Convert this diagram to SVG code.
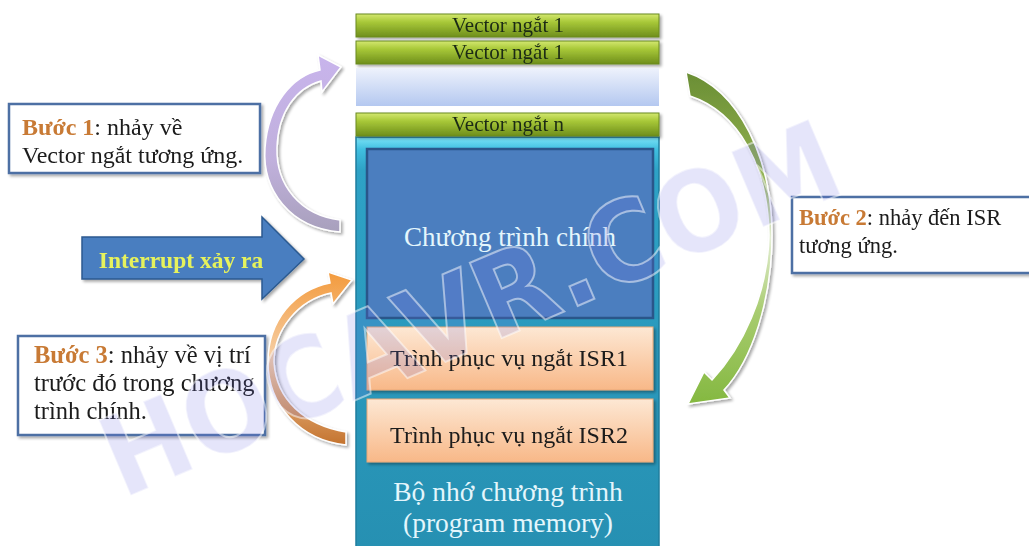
<svg xmlns="http://www.w3.org/2000/svg" width="1029" height="546" viewBox="0 0 1029 546">
  <defs>
    <linearGradient id="gBar" x1="0" y1="0" x2="0" y2="1">
      <stop offset="0" stop-color="#d4e870"/>
      <stop offset="0.35" stop-color="#a8c838"/>
      <stop offset="1" stop-color="#6e8e1c"/>
    </linearGradient>
    <linearGradient id="gGap" x1="0" y1="0" x2="0" y2="1">
      <stop offset="0" stop-color="#eef2fc"/>
      <stop offset="1" stop-color="#b4c8f0"/>
    </linearGradient>
    <linearGradient id="gMem" x1="0" y1="0" x2="0" y2="1">
      <stop offset="0" stop-color="#7ce4f8"/>
      <stop offset="0.03" stop-color="#40bfe0"/>
      <stop offset="0.08" stop-color="#2ea2c6"/>
      <stop offset="1" stop-color="#2690b2"/>
    </linearGradient>
    <linearGradient id="gIsr" x1="0" y1="0" x2="0" y2="1">
      <stop offset="0" stop-color="#fde8d4"/>
      <stop offset="1" stop-color="#f8b888"/>
    </linearGradient>
    <linearGradient id="gPurple" x1="0" y1="0" x2="0" y2="1">
      <stop offset="0" stop-color="#c8b4ec"/>
      <stop offset="0.6" stop-color="#c0b0dc"/>
      <stop offset="1" stop-color="#a8a0bc"/>
    </linearGradient>
    <linearGradient id="gOrange" x1="0" y1="0" x2="0" y2="1">
      <stop offset="0" stop-color="#f39a3c"/>
      <stop offset="0.5" stop-color="#f6d0a8"/>
      <stop offset="1" stop-color="#c4732e"/>
    </linearGradient>
    <linearGradient id="gGreen" x1="0" y1="0" x2="0" y2="1">
      <stop offset="0" stop-color="#6a8e34"/>
      <stop offset="0.3" stop-color="#90b050"/>
      <stop offset="0.5" stop-color="#e4eed4"/>
      <stop offset="0.72" stop-color="#a8cc70"/>
      <stop offset="1" stop-color="#84b840"/>
    </linearGradient>
    <filter id="shadow" x="-10%" y="-10%" width="130%" height="140%">
      <feGaussianBlur in="SourceAlpha" stdDeviation="1.6"/>
      <feOffset dx="1.5" dy="2" result="b"/>
      <feComponentTransfer><feFuncA type="linear" slope="0.35"/></feComponentTransfer>
      <feMerge><feMergeNode/><feMergeNode in="SourceGraphic"/></feMerge>
    </filter>
    <style>
      .serif { font-family: "Liberation Serif", "Times New Roman", serif; }
      .bar { fill: url(#gBar); stroke: #6a8a20; stroke-width: 1; }
      .barTxt { font-size: 21px; fill: #1c2c14; text-anchor: middle; }
      .isr { fill: url(#gIsr); stroke: #e8a878; stroke-width: 1; }
      .isrTxt { font-size: 24px; fill: #1a1a1a; text-anchor: middle; }
      .memTxt { font-size: 27.5px; fill: #e4f6fc; text-anchor: middle; }
      .note { fill: #ffffff; stroke: #4e6fa4; stroke-width: 2.5; }
      .noteTxt { font-size: 24px; fill: #1a1a1a; }
      .step { font-weight: bold; fill: #c87a34; }
      .curve { stroke: #ffffff; stroke-width: 1.5; }
    </style>
  </defs>

  <rect width="1029" height="546" fill="#ffffff"/>

  <!-- program memory column -->
  <g id="program-memory">
    <rect x="356" y="137" width="303" height="412" fill="url(#gMem)" stroke="#1f7e9e" stroke-width="1.5"/>
    <text class="serif memTxt" x="508" y="501">Bộ nhớ chương trình</text>
    <text class="serif memTxt" x="508" y="532">(program memory)</text>
  </g>

  <!-- interrupt vector table -->
  <g id="vector-1" filter="url(#shadow)">
    <rect class="bar" x="356" y="14" width="303" height="23"/>
    <text class="serif barTxt" x="508" y="32">Vector ngắt 1</text>
  </g>
  <g id="vector-2" filter="url(#shadow)">
    <rect class="bar" x="356" y="41" width="303" height="23"/>
    <text class="serif barTxt" x="508" y="59">Vector ngắt 1</text>
  </g>
  <g id="vector-gap">
    <rect x="356" y="68" width="303" height="38" fill="url(#gGap)"/>
  </g>
  <g id="vector-n" filter="url(#shadow)">
    <rect class="bar" x="356" y="113" width="303" height="23"/>
    <text class="serif barTxt" x="508" y="131">Vector ngắt n</text>
  </g>

  <!-- main program block -->
  <g id="main-program">
    <rect x="367" y="149" width="286" height="169" fill="#4b7ebf" stroke="#2a568a" stroke-width="2.5"/>
    <text class="serif memTxt" x="510" y="246" style="font-size:27px">Chương trình chính</text>
  </g>

  <!-- interrupt service routines -->
  <g id="isr-1" filter="url(#shadow)">
    <rect class="isr" x="367" y="327" width="286" height="63"/>
    <text class="serif isrTxt" x="509" y="366">Trình phục vụ ngắt ISR1</text>
  </g>
  <g id="isr-2" filter="url(#shadow)">
    <rect class="isr" x="367" y="399" width="286" height="63"/>
    <text class="serif isrTxt" x="509" y="443">Trình phục vụ ngắt ISR2</text>
  </g>

  <!-- block arrow: interrupt trigger -->
  <g id="interrupt" filter="url(#shadow)">
    <path d="M82 237 L262 237 L262 217 L304 259 L262 299 L262 279 L82 279 Z" fill="#4a7ec0" stroke="#2c5a90" stroke-width="1.5"/>
    <text class="serif" x="181" y="268" font-size="23.5" font-weight="bold" fill="#e6f25c" text-anchor="middle">Interrupt xảy ra</text>
  </g>

  <!-- step notes -->
  <g id="step-1" filter="url(#shadow)">
    <rect class="note" x="9" y="104" width="251" height="69"/>
    <text class="serif noteTxt" x="22" y="135"><tspan class="step">Bước 1</tspan>: nhảy về</text>
    <text class="serif noteTxt" x="22" y="163">Vector ngắt tương ứng.</text>
  </g>
  <g id="step-2" filter="url(#shadow)">
    <rect class="note" x="792" y="197" width="245" height="76"/>
    <text class="serif noteTxt" x="799" y="225" style="font-size:22.5px"><tspan class="step">Bước 2</tspan>: nhảy đến ISR</text>
    <text class="serif noteTxt" x="799" y="253" style="font-size:22.5px">tương ứng.</text>
  </g>
  <g id="step-3" filter="url(#shadow)">
    <rect class="note" x="18" y="336" width="247" height="99"/>
    <text class="serif noteTxt" x="34" y="363" style="font-size:24.5px"><tspan class="step">Bước 3</tspan>: nhảy về vị trí</text>
    <text class="serif noteTxt" x="34" y="391" style="font-size:24.5px">trước đó trong chương</text>
    <text class="serif noteTxt" x="34" y="419" style="font-size:24.5px">trình chính.</text>
  </g>

  <!-- curved jump arrows -->
  <g id="connectors" filter="url(#shadow)">
    <path class="curve" fill="url(#gPurple)" d="M340 232 C290 228 262 190 265 148 C268 105 292 76 320 70 L318 55 L341 67 L322 92 L321 81 C296 88 278 112 277 148 C276 185 300 215 340 220 Z"/>
    <path class="curve" fill="url(#gGreen)" d="M686 72 C740 90 772 160 772 235 C772 300 752 360 724 390 L730 398 L688 404 L704 372 L712 380 C742 348 768 295 769 235 C768 165 738 112 690 96 Z"/>
    <path class="curve" fill="url(#gOrange)" d="M346 445 C300 440 268 405 268 362 C268 320 295 290 330 283 L328 272 L352 280 L333 304 L331 293 C298 300 274 330 274 362 C276 400 305 425 346 432 Z"/>
  </g>

  <!-- site watermark -->
  <g id="watermark" transform="translate(470 308) rotate(-23)">
    <text x="0" y="40" font-family="DejaVu Sans, sans-serif" font-size="112" font-weight="bold" text-anchor="middle" textLength="790" lengthAdjust="spacingAndGlyphs" fill="#7474e4" fill-opacity="0.19" stroke="#ffffff" stroke-opacity="0.5" stroke-width="2">HOCAVR.COM</text>
  </g>
</svg>
